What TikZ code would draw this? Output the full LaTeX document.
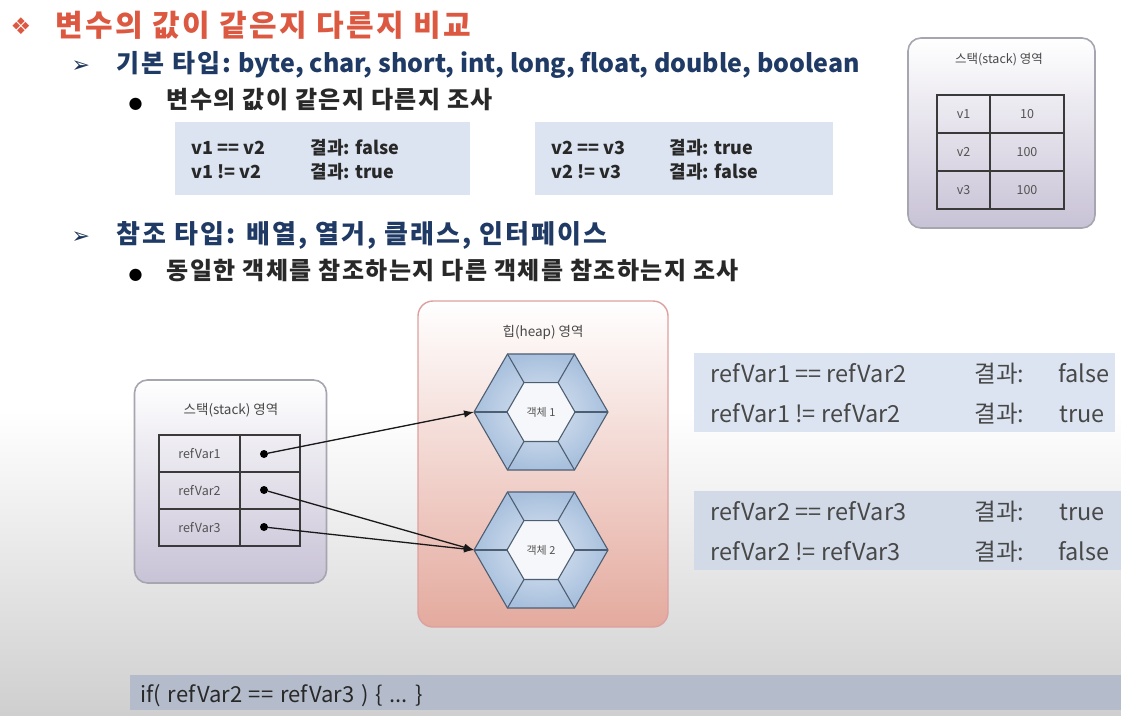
\documentclass[tikz,border=0pt]{standalone}
\usepackage{fontspec}
\setmainfont{Noto Sans CJK KR}
\newfontfamily\symfont{DejaVu Sans}
\newfontfamily\codefont[WordSpace=1.35]{Noto Sans CJK KR}
\usetikzlibrary{arrows.meta,calc}

\definecolor{titlered}{HTML}{DC5840}
\definecolor{headblue}{HTML}{1F3A64}
\definecolor{textdark}{HTML}{282828}
\definecolor{bggray}{HTML}{CFCFCF}
\definecolor{cmpblue}{HTML}{DCE4F1}
\definecolor{cmpblue2}{HTML}{D2DAE7}
\definecolor{barblue}{HTML}{B4BCCB}
\definecolor{stackbot}{HTML}{C8C2D6}
\definecolor{stackline}{HTML}{A6A6B0}
\definecolor{heapbot}{HTML}{E4AA9E}
\definecolor{heapline}{HTML}{DDA0A0}
\definecolor{hexlight}{HTML}{DCE6F2}
\definecolor{hexdark}{HTML}{A8C0DD}
\definecolor{hexline}{HTML}{4E5E72}
\definecolor{hexinner}{HTML}{F6F7FA}
\definecolor{cellline}{HTML}{3A3A3A}

\tikzset{
  heading/.style={anchor=base west, text=headblue, font=\fontsize{25}{25}\selectfont\bfseries},
  bodyline/.style={anchor=base west, text=textdark, font=\fontsize{24}{24}\selectfont\bfseries\addfontfeature{LetterSpace=6}},
  arrowsym/.style={anchor=base west, text=headblue!90!black, font=\symfont\fontsize{22}{22}\selectfont},
  dotsym/.style={anchor=base west, text=black, font=\symfont\fontsize{16}{16}\selectfont},
  cmpbox/.style={fill=cmpblue, draw=none, inner sep=0pt},
  cmptext/.style={anchor=base west, text=textdark, font=\fontsize{18}{18}\selectfont\bfseries},
  reftext/.style={anchor=base west, text=textdark!85, font=\fontsize{23.5}{23.5}\selectfont},
  stackbox/.style={draw=stackline, line width=1.6pt, rounded corners=13pt,
    top color=white, bottom color=stackbot, inner sep=0pt},
  heapbox/.style={draw=heapline, line width=1.4pt, rounded corners=15pt,
    top color=white, bottom color=heapbot, inner sep=0pt},
  cell/.style={draw=cellline, line width=1.1pt, inner sep=0pt, text=textdark!80,
    font=\fontsize{12.5}{12.5}\selectfont},
  refdot/.style={circle, fill=black, inner sep=0pt, minimum size=8pt},
  refarrow/.style={draw=black!90, line width=1.3pt, -{Latex[length=10pt,width=7.5pt]}},
  pics/hexring/.style={code={
    \shadedraw[inner color=hexlight, outer color=hexdark, draw=hexline, line width=1.1pt]
      (0:67) -- (60:67) -- (120:67) -- (180:67) -- (240:67) -- (300:67) -- cycle;
    \filldraw[fill=hexinner, draw=hexline, line width=1.1pt]
      (0:34) -- (60:34) -- (120:34) -- (180:34) -- (240:34) -- (300:34) -- cycle;
    \foreach \a in {0,60,...,300} \draw[hexline, line width=1.1pt] (\a:34) -- (\a:67);
    \node[text=textdark!80, font=\fontsize{11}{11}\selectfont] (-c) at (0,0) {#1};
    \coordinate (-w) at (180:67);
  }}
}

\begin{document}
\begin{tikzpicture}[x=1pt,y=-1pt]
\useasboundingbox (0,0) rectangle (1121,715);
% page background
\fill[white] (0,0) rectangle (1121,715);
\shade[top color=white, bottom color=bggray] (0,410) rectangle (1121,715);

% title and bullets
\node[anchor=base west, text=titlered, font=\symfont\fontsize{23}{23}\selectfont] (tbul) at (7,34) {❖};
\node[anchor=base west, text=titlered, font=\fontsize{30}{30}\selectfont\bfseries\addfontfeature{LetterSpace=8}] (title) at (52,36) {변수의 값이 같은지 다른지 비교};

\node[arrowsym] (ar1) at (68,72) {➢};
\node[heading] (head1) at (113,72) {{\addfontfeature{LetterSpace=8}기본 타입:} byte, char, short, int, long, float, double, boolean};
\node[dotsym] (bul1) at (125,108) {●};
\node[bodyline] (body1) at (163,108) {변수의 값이 같은지 다른지 조사};

% primitive comparisons
\node[cmpbox, minimum width=295pt, minimum height=73pt] (cmpA) at (322.5,158.5) {};
\node[cmptext] (cA1) at (188,154) {v1 == v2};
\node[cmptext] (cA2) at (188,178) {v1 != v2};
\node[cmptext] (rA1) at (307,154) {결과: false};
\node[cmptext] (rA2) at (307,178) {결과: true};

\node[cmpbox, minimum width=298pt, minimum height=73pt] (cmpB) at (684,158.5) {};
\node[cmptext] (cB1) at (548,154) {v2 == v3};
\node[cmptext] (cB2) at (548,178) {v2 != v3};
\node[cmptext] (rB1) at (666,154) {결과: true};
\node[cmptext] (rB2) at (666,178) {결과: false};

% stack of primitives
\node[stackbox, minimum width=187pt, minimum height=190pt] (stackA) at (1001.5,133) {};
\node[text=textdark!85, font=\fontsize{12.5}{12.5}\selectfont] (stackAt) at (999,60) {스택(stack) 영역};
\node[cell, minimum width=53pt, minimum height=38pt] (v1n) at (963.5,114) {v1};
\node[cell, minimum width=74pt, minimum height=38pt] (v1v) at (1027,114) {10};
\node[cell, minimum width=53pt, minimum height=38pt] (v2n) at (963.5,152) {v2};
\node[cell, minimum width=74pt, minimum height=38pt] (v2v) at (1027,152) {100};
\node[cell, minimum width=53pt, minimum height=38pt] (v3n) at (963.5,190) {v3};
\node[cell, minimum width=74pt, minimum height=38pt] (v3v) at (1027,190) {100};

% reference types
\node[arrowsym] (ar2) at (68,243) {➢};
\node[heading, font=\fontsize{26}{26}\selectfont\bfseries\addfontfeature{LetterSpace=8}] (head2) at (113,243) {참조 타입: 배열, 열거, 클래스, 인터페이스};
\node[dotsym] (bul2) at (125,279) {●};
\node[bodyline] (body2) at (163,279) {동일한 객체를 참조하는지 다른 객체를 참조하는지 조사};

% heap area
\node[heapbox, minimum width=250pt, minimum height=326pt] (heap) at (543,464) {};
\node[text=textdark!85, font=\fontsize{13.5}{13.5}\selectfont] (heapt) at (543,332) {힙(heap) 영역};
\pic (obj1) at (541,412) {hexring={객체 1}};
\pic (obj2) at (541,550) {hexring={객체 2}};

% stack of references
\node[stackbox, minimum width=192pt, minimum height=203pt] (stackB) at (230.5,481.5) {};
\node[text=textdark!85, font=\fontsize{13.5}{13.5}\selectfont] (stackBt) at (231,410) {스택(stack) 영역};
\node[cell, minimum width=81pt, minimum height=37pt] (r1n) at (199.5,453.5) {refVar1};
\node[cell, minimum width=60pt, minimum height=37pt] (r1v) at (270,453.5) {};
\node[cell, minimum width=81pt, minimum height=37pt] (r2n) at (199.5,490.5) {refVar2};
\node[cell, minimum width=60pt, minimum height=37pt] (r2v) at (270,490.5) {};
\node[cell, minimum width=81pt, minimum height=37pt] (r3n) at (199.5,527.5) {refVar3};
\node[cell, minimum width=60pt, minimum height=37pt] (r3v) at (270,527.5) {};
\node[refdot] (d1) at (264,454) {};
\node[refdot] (d2) at (264,490) {};
\node[refdot] (d3) at (264,527) {};

\draw[refarrow] (d1) -- (obj1-w);
\draw[refarrow] (d2) -- (obj2-w);
\draw[refarrow] (d3) -- (obj2-w);

% reference comparisons
\node[cmpbox, minimum width=421pt, minimum height=79pt] (cmpC) at (904.5,392.5) {};
\node[reftext] (cC1) at (707,382) {refVar1 == refVar2};
\node[reftext] (cC2) at (707,422) {refVar1 != refVar2};
\node[reftext] (kC1) at (971,382) {결과:};
\node[reftext] (kC2) at (971,422) {결과:};
\node[reftext] (vC1) at (1055,382) {false};
\node[reftext] (vC2) at (1056,422) {true};

\node[cmpbox, fill=cmpblue2, minimum width=427pt, minimum height=79pt] (cmpD) at (907.5,530.5) {};
\node[reftext] (cD1) at (707,520) {refVar2 == refVar3};
\node[reftext] (cD2) at (707,560) {refVar2 != refVar3};
\node[reftext] (kD1) at (971,520) {결과:};
\node[reftext] (kD2) at (971,560) {결과:};
\node[reftext] (vD1) at (1056,520) {true};
\node[reftext] (vD2) at (1055,560) {false};

% code line
\node[fill=barblue, inner sep=0pt, minimum width=991pt, minimum height=35pt] (bar) at (625.5,692.5) {};
\node[anchor=base west, text=textdark, font=\codefont\fontsize{22}{22}\selectfont] (code) at (137,702) {if( refVar2 == refVar3 ) \{ ... \}};
\end{tikzpicture}
\end{document}
